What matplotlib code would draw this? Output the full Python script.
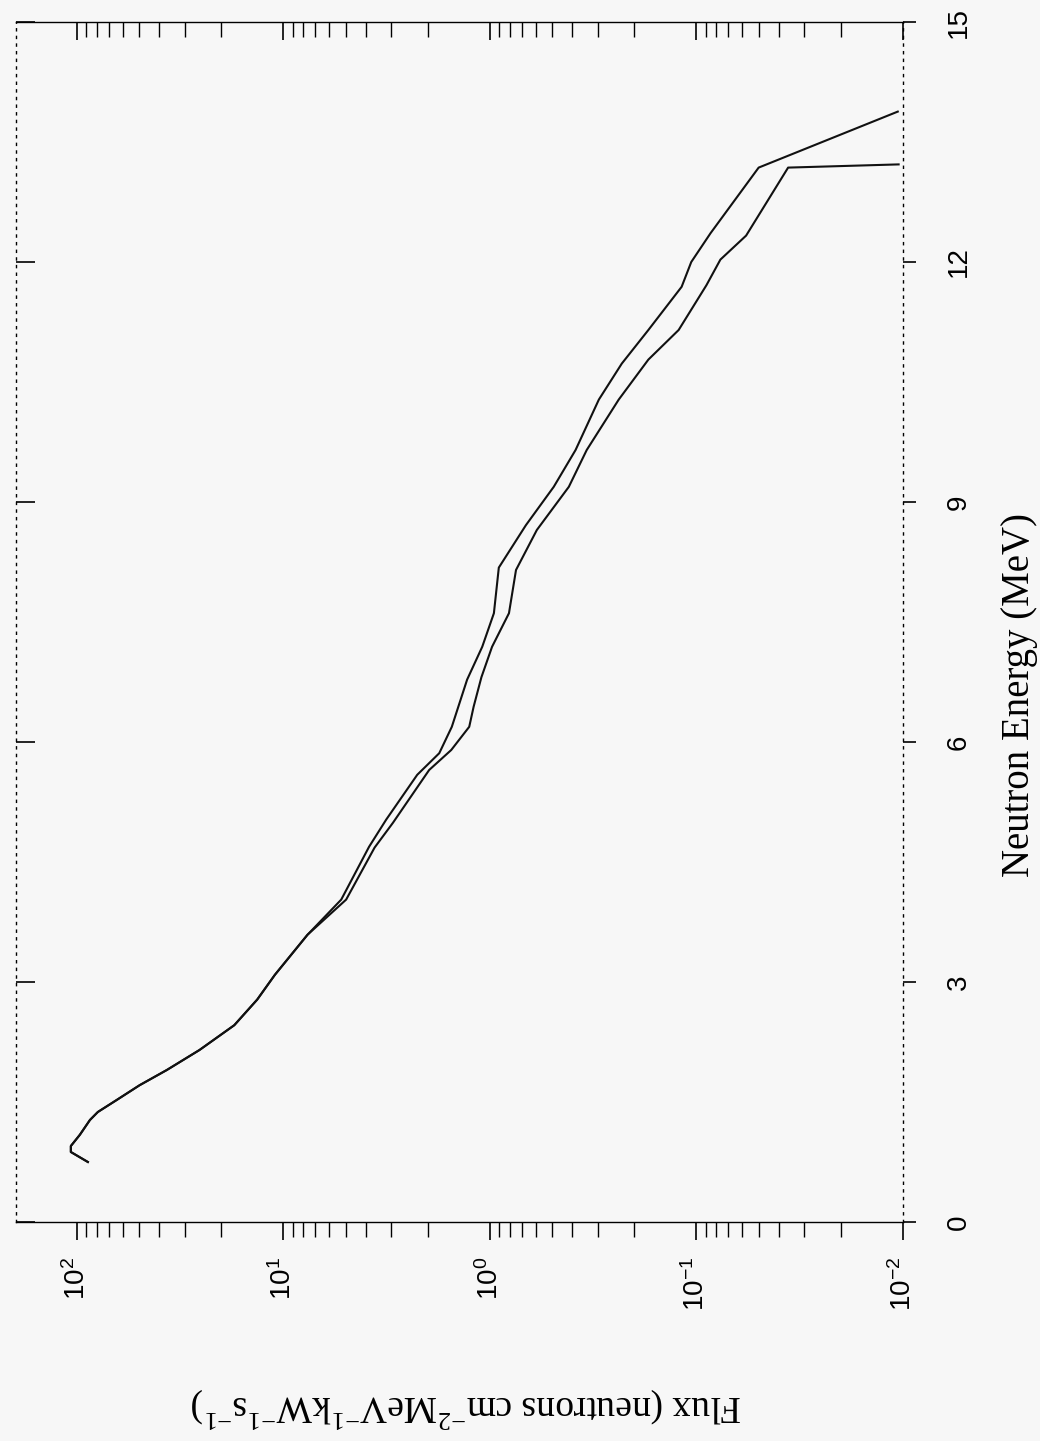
import numpy as np
import matplotlib
matplotlib.use("Agg")
import matplotlib.pyplot as plt
from matplotlib.ticker import LogLocator, FixedLocator, NullFormatter

# shared low-energy part of both spectra (MeV, flux)
energy_low = [0.75, 0.875, 0.95, 1.09, 1.275, 1.375, 1.525, 1.71, 1.9, 2.15,
              2.46, 2.78, 3.09, 3.59]
flux_low = [88.5, 107, 107, 96.8, 86.5, 79.2, 64.2, 49.7, 36.7, 25.5,
            17.3, 13.4, 11.0, 7.65]

# upper spectrum
energy_a = [4.03, 4.69, 5.03, 5.59, 5.86, 6.19, 6.78, 7.19, 7.61, 8.18, 8.71,
            9.19, 9.65, 10.28, 10.73, 11.15, 11.69, 12.0, 12.36, 13.18, 13.88]
flux_a = [5.25, 3.85, 3.18, 2.25, 1.76, 1.53, 1.29, 1.09, 0.957, 0.906, 0.670,
          0.491, 0.385, 0.297, 0.230, 0.171, 0.118, 0.106, 0.0855, 0.050, 0.0106]

# lower spectrum
energy_b = [4.03, 4.68, 4.99, 5.65, 5.9, 6.19, 6.44, 6.81, 7.19, 7.61, 8.15,
            8.65, 9.19, 9.65, 10.28, 10.78, 11.15, 11.71, 12.03, 12.33, 13.18, 13.22]
flux_b = [4.97, 3.62, 2.95, 1.97, 1.54, 1.26, 1.20, 1.10, 0.977, 0.809, 0.748,
          0.593, 0.415, 0.340, 0.238, 0.171, 0.122, 0.0895, 0.0766, 0.0575, 0.036, 0.0105]

energy_ticks = [0, 3, 6, 9, 12, 15]
flux_ticks = [1e2, 1e1, 1e0, 1e-1, 1e-2]
flux_labels = ["$\\mathregular{10^{2}}$", "$\\mathregular{10^{1}}$", "$\\mathregular{10^{0}}$",
               "$\\mathregular{10^{-1}}$", "$\\mathregular{10^{-2}}$"]

plt.rcParams["font.family"] = ["Liberation Sans", "DejaVu Sans"]

bg = "#f7f7f7"
W, H = 1040, 1441
fig = plt.figure(figsize=(W / 100, H / 100), dpi=100, facecolor=bg)
# plot box in pixels: left 16, right 903, top 22, bottom 1222
pos = [16 / W, 1 - 1222 / H, (903 - 16) / W, (1222 - 22) / H]
ax = fig.add_axes(pos, facecolor=bg)

xlim = (10 ** 2.295, 1e-2)
ylim = (0, 15)

# the original figure is rotated: flux runs horizontally, energy vertically
ax.plot(flux_low + flux_a, energy_low + energy_a, color="#111111", lw=1.5)
ax.plot(flux_low + flux_b, energy_low + energy_b, color="#111111", lw=1.5)

ax.set_xscale("log")
ax.set_xlim(*xlim)
ax.set_ylim(*ylim)

ax.xaxis.set_major_locator(FixedLocator(flux_ticks))
ax.xaxis.set_minor_locator(LogLocator(base=10, subs=np.arange(2, 10)))
ax.xaxis.set_minor_formatter(NullFormatter())
ax.set_xticklabels(flux_labels, rotation=90, fontsize=20)
ax.tick_params(axis="x", which="major", direction="out", length=13, width=1.2, pad=12)
ax.tick_params(axis="x", which="minor", direction="out", length=11, width=1.0)

ax.yaxis.set_ticks_position("right")
ax.set_yticks(energy_ticks)
ax.set_yticklabels([str(v) for v in energy_ticks], rotation=90, fontsize=20, va="center")
ax.tick_params(axis="y", direction="out", length=9, width=1.2, pad=22)

for side in ["left", "right"]:
    ax.spines[side].set_linestyle((0, (1.5, 4)))
    ax.spines[side].set_linewidth(1.0)
for side in ["top", "bottom"]:
    ax.spines[side].set_linewidth(1.0)

fig.text(1020 / W, 1 - 695 / H, "Neutron Energy (MeV)", family="Liberation Serif",
         fontsize=28, rotation=90, ha="center", va="center")
fig.text(466 / W, 1 - 1408 / H,
         "Flux (neutrons cm$^{\\mathregular{-2}}$MeV$^{\\mathregular{-1}}$"
         "kW$^{\\mathregular{-1}}$s$^{\\mathregular{-1}}$)",
         family="Liberation Serif", fontsize=27, rotation=180, ha="center", va="center")

# mirrored ticks on the top and left edges, pointing inward
ax2 = fig.add_axes(pos, frameon=False)
ax2.patch.set_visible(False)
ax2.set_xscale("log")
ax2.set_xlim(*xlim)
ax2.set_ylim(*ylim)
ax2.xaxis.set_ticks_position("top")
ax2.yaxis.set_ticks_position("left")
ax2.xaxis.set_major_locator(FixedLocator(flux_ticks))
ax2.xaxis.set_minor_locator(LogLocator(base=10, subs=np.arange(2, 10)))
ax2.set_yticks(energy_ticks)
ax2.tick_params(axis="x", which="major", direction="in", length=13, width=1.2,
                labeltop=False, labelbottom=False)
ax2.tick_params(axis="x", which="minor", direction="in", length=11, width=1.0,
                labeltop=False)
ax2.tick_params(axis="y", direction="in", length=14, width=1.2, labelleft=False)

fig.savefig("out.png", dpi=100, facecolor=bg)
